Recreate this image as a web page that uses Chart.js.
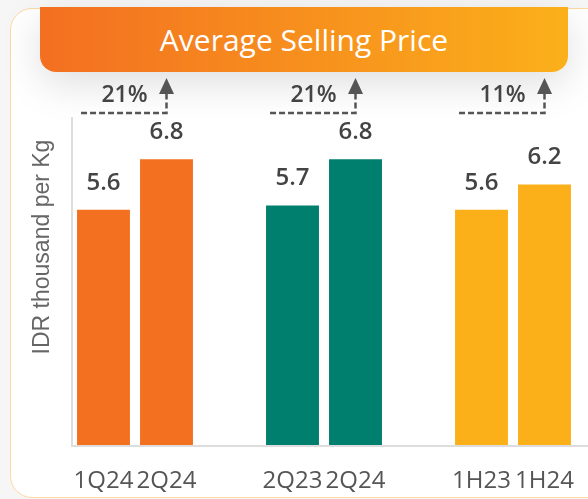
<!DOCTYPE html>
<html>
<head>
<meta charset="utf-8">
<script src="https://cdn.jsdelivr.net/npm/chart.js@4.4.1/dist/chart.umd.min.js"></script>
<style>
  body { margin: 0; width: 588px; height: 499px; background: #f6f6f6; overflow: hidden; position: relative; }
  #card { position: absolute; left: 10px; top: 8px; width: 600px; height: 488px; background: #fff;
          border: 1.5px solid #fdd9a3; border-radius: 22px; }
  #banner { position: absolute; left: 40px; top: 7px; width: 528px; height: 65px; border-radius: 0 0 16px 16px;
            background: linear-gradient(90deg, #f36f21, #fbb01a); box-shadow: 0 12px 40px rgba(0,0,0,.13);
            color: #fff; font: 500 30px 'Open Sans'; display: flex; align-items: center; justify-content: center; }
  #wrap { position: absolute; left: 0; top: 0; width: 588px; height: 499px; }
</style>
</head>
<body>
<div id="card"></div>
<div id="banner">Average Selling Price</div>
<div id="wrap"><canvas id="chart" width="588" height="499"></canvas></div>
<script>
// data
const categories = ['1Q24', '2Q24', '', '2Q23', '2Q24', '', '1H23', '1H24'];
const asp = [5.6, 6.8, null, 5.7, 6.8, null, 5.6, 6.2];
const growth = ['21%', '21%', '11%'];
const yMax = 7.8;
const yTitle = 'IDR thousand per Kg';

const groupColors = ['#f37021', '#007f6f', '#fbb01a'];

const extras = {
  id: 'extras',
  afterDraw(chart) {
    const { ctx, chartArea } = chart;
    const bars = chart.getDatasetMeta(0).data;
    ctx.save();

    // axis lines
    ctx.strokeStyle = '#dddddd';
    ctx.lineWidth = 2;
    ctx.beginPath();
    ctx.moveTo(chartArea.left, chartArea.top);
    ctx.lineTo(chartArea.left, chartArea.bottom);
    ctx.lineTo(chart.width, chartArea.bottom);
    ctx.stroke();

    // y title
    ctx.save();
    ctx.translate(43, 247);
    ctx.rotate(-Math.PI / 2);
    ctx.fillStyle = '#666';
    ctx.font = '23px "Liberation Sans"';
    ctx.textAlign = 'center';
    ctx.textBaseline = 'middle';
    ctx.fillText(yTitle, 0, 0);
    ctx.restore();

    // value labels
    ctx.fillStyle = '#444';
    ctx.font = '600 24px "Open Sans"';
    ctx.textAlign = 'center';
    ctx.textBaseline = 'middle';
    asp.forEach((v, i) => {
      if (v === null) return;
      ctx.fillText(v.toFixed(1), bars[i].x, bars[i].y - 27);
    });

    // growth arrows
    growth.forEach((g, k) => {
      const from = bars[k * 3], to = bars[k * 3 + 1];
      const x0 = from.x - from.width / 2 + 4;
      const x1 = to.x;
      const lineY = chartArea.top - 4;
      const tipY = chartArea.top - 39;
      ctx.strokeStyle = '#555';
      ctx.lineWidth = 2.5;
      ctx.setLineDash([6, 3]);
      ctx.beginPath();
      ctx.moveTo(x0, lineY);
      ctx.lineTo(x1, lineY);
      ctx.lineTo(x1, tipY + 15);
      ctx.stroke();
      ctx.setLineDash([]);
      ctx.fillStyle = '#555';
      ctx.beginPath();
      ctx.moveTo(x1, tipY);
      ctx.lineTo(x1 - 7.5, tipY + 16);
      ctx.lineTo(x1 + 7.5, tipY + 16);
      ctx.closePath();
      ctx.fill();
      ctx.fillStyle = '#444';
      ctx.font = '600 23px "Open Sans"';
      ctx.fillText(g, x1 - 42, tipY + 17);
    });
    ctx.restore();
  }
};

new Chart(document.getElementById('chart'), {
  type: 'bar',
  data: {
    labels: categories,
    datasets: [{
      data: asp,
      backgroundColor: (c) => groupColors[Math.floor(c.dataIndex / 3)],
      barPercentage: 0.84,
      categoryPercentage: 1.0,
    }],
  },
  options: {
    responsive: false,
    animation: false,
    devicePixelRatio: 1,
    layout: { padding: { left: 72, right: 12, top: 117, bottom: 0 } },
    plugins: { legend: { display: false }, tooltip: { enabled: false } },
    scales: {
      x: {
        grid: { display: false },
        border: { display: false },
        ticks: { color: '#555', font: { family: 'Open Sans', size: 24, weight: '500' }, padding: 13, autoSkip: false, maxRotation: 0 },
        afterFit: (s) => { s.height = 53; },
      },
      y: { display: false, min: 0, max: yMax },
    },
  },
  plugins: [extras],
});
</script>
</body>
</html>
